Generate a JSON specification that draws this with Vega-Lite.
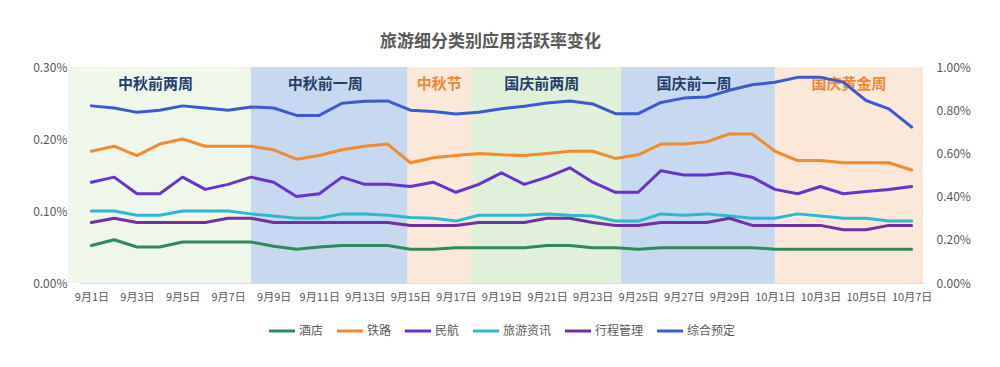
{
  "$schema": "https://vega.github.io/schema/vega-lite/v6.json",
  "width": 843,
  "height": 216,
  "autosize": {"type": "none"},
  "padding": {"left": 80, "top": 67, "right": 77, "bottom": 84},
  "background": "white",
  "config": {
    "view": {"stroke": null},
    "font": "Noto Sans CJK SC",
    "legend": {"layout": {"bottom": {"anchor": "middle"}}}
  },
  "title": {
    "text": "旅游细分类别应用活跃率变化",
    "fontSize": 17,
    "fontWeight": "bold",
    "color": "#595959",
    "anchor": "middle",
    "dx": -11,
    "offset": 10
  },
  "datasets": {
    "series": [
      {"day": 1, "酒店": 0.052, "铁路": 0.183, "民航": 0.140, "旅游资讯": 0.100, "行程管理": 0.084, "综合预定": 0.820},
      {"day": 2, "酒店": 0.060, "铁路": 0.190, "民航": 0.147, "旅游资讯": 0.100, "行程管理": 0.090, "综合预定": 0.810},
      {"day": 3, "酒店": 0.050, "铁路": 0.177, "民航": 0.124, "旅游资讯": 0.094, "行程管理": 0.084, "综合预定": 0.790},
      {"day": 4, "酒店": 0.050, "铁路": 0.193, "民航": 0.124, "旅游资讯": 0.094, "行程管理": 0.084, "综合预定": 0.800},
      {"day": 5, "酒店": 0.057, "铁路": 0.200, "民航": 0.147, "旅游资讯": 0.100, "行程管理": 0.084, "综合预定": 0.820},
      {"day": 6, "酒店": 0.057, "铁路": 0.190, "民航": 0.130, "旅游资讯": 0.100, "行程管理": 0.084, "综合预定": 0.810},
      {"day": 7, "酒店": 0.057, "铁路": 0.190, "民航": 0.137, "旅游资讯": 0.100, "行程管理": 0.090, "综合预定": 0.800},
      {"day": 8, "酒店": 0.057, "铁路": 0.190, "民航": 0.147, "旅游资讯": 0.096, "行程管理": 0.090, "综合预定": 0.815},
      {"day": 9, "酒店": 0.051, "铁路": 0.185, "民航": 0.140, "旅游资讯": 0.093, "行程管理": 0.084, "综合预定": 0.810},
      {"day": 10, "酒店": 0.047, "铁路": 0.172, "民航": 0.120, "旅游资讯": 0.090, "行程管理": 0.084, "综合预定": 0.776},
      {"day": 11, "酒店": 0.050, "铁路": 0.177, "民航": 0.124, "旅游资讯": 0.090, "行程管理": 0.084, "综合预定": 0.776},
      {"day": 12, "酒店": 0.052, "铁路": 0.185, "民航": 0.147, "旅游资讯": 0.096, "行程管理": 0.084, "综合预定": 0.832},
      {"day": 13, "酒店": 0.052, "铁路": 0.190, "民航": 0.137, "旅游资讯": 0.096, "行程管理": 0.084, "综合预定": 0.841},
      {"day": 14, "酒店": 0.052, "铁路": 0.193, "民航": 0.137, "旅游资讯": 0.094, "行程管理": 0.084, "综合预定": 0.843},
      {"day": 15, "酒店": 0.047, "铁路": 0.167, "民航": 0.134, "旅游资讯": 0.091, "行程管理": 0.080, "综合预定": 0.800},
      {"day": 16, "酒店": 0.047, "铁路": 0.174, "民航": 0.140, "旅游资讯": 0.090, "行程管理": 0.080, "综合预定": 0.794},
      {"day": 17, "酒店": 0.049, "铁路": 0.177, "民航": 0.126, "旅游资讯": 0.086, "行程管理": 0.080, "综合预定": 0.782},
      {"day": 18, "酒店": 0.049, "铁路": 0.180, "民航": 0.137, "旅游资讯": 0.094, "行程管理": 0.084, "综合预定": 0.791},
      {"day": 19, "酒店": 0.049, "铁路": 0.178, "民航": 0.153, "旅游资讯": 0.094, "行程管理": 0.084, "综合预定": 0.807},
      {"day": 20, "酒店": 0.049, "铁路": 0.177, "民航": 0.137, "旅游资讯": 0.094, "行程管理": 0.084, "综合预定": 0.818},
      {"day": 21, "酒店": 0.052, "铁路": 0.180, "民航": 0.147, "旅游资讯": 0.096, "行程管理": 0.090, "综合预定": 0.833},
      {"day": 22, "酒店": 0.052, "铁路": 0.183, "民航": 0.160, "旅游资讯": 0.094, "行程管理": 0.090, "综合预定": 0.843},
      {"day": 23, "酒店": 0.049, "铁路": 0.183, "民航": 0.140, "旅游资讯": 0.093, "行程管理": 0.084, "综合预定": 0.829},
      {"day": 24, "酒店": 0.049, "铁路": 0.173, "民航": 0.126, "旅游资讯": 0.086, "行程管理": 0.080, "综合预定": 0.784},
      {"day": 25, "酒店": 0.047, "铁路": 0.178, "民航": 0.126, "旅游资讯": 0.086, "行程管理": 0.080, "综合预定": 0.784},
      {"day": 26, "酒店": 0.049, "铁路": 0.193, "民航": 0.156, "旅游资讯": 0.096, "行程管理": 0.084, "综合预定": 0.836},
      {"day": 27, "酒店": 0.049, "铁路": 0.193, "民航": 0.150, "旅游资讯": 0.094, "行程管理": 0.084, "综合预定": 0.856},
      {"day": 28, "酒店": 0.049, "铁路": 0.196, "民航": 0.150, "旅游资讯": 0.096, "行程管理": 0.084, "综合预定": 0.861},
      {"day": 29, "酒店": 0.049, "铁路": 0.207, "民航": 0.153, "旅游资讯": 0.093, "行程管理": 0.090, "综合预定": 0.892},
      {"day": 30, "酒店": 0.049, "铁路": 0.207, "民航": 0.147, "旅游资讯": 0.090, "行程管理": 0.080, "综合预定": 0.918},
      {"day": 31, "酒店": 0.047, "铁路": 0.183, "民航": 0.130, "旅游资讯": 0.090, "行程管理": 0.080, "综合预定": 0.929},
      {"day": 32, "酒店": 0.047, "铁路": 0.170, "民航": 0.124, "旅游资讯": 0.096, "行程管理": 0.080, "综合预定": 0.952},
      {"day": 33, "酒店": 0.047, "铁路": 0.170, "民航": 0.134, "旅游资讯": 0.093, "行程管理": 0.080, "综合预定": 0.952},
      {"day": 34, "酒店": 0.047, "铁路": 0.167, "民航": 0.124, "旅游资讯": 0.090, "行程管理": 0.074, "综合预定": 0.930},
      {"day": 35, "酒店": 0.047, "铁路": 0.167, "民航": 0.127, "旅游资讯": 0.090, "行程管理": 0.074, "综合预定": 0.845},
      {"day": 36, "酒店": 0.047, "铁路": 0.167, "民航": 0.130, "旅游资讯": 0.086, "行程管理": 0.080, "综合预定": 0.806},
      {"day": 37, "酒店": 0.047, "铁路": 0.157, "民航": 0.134, "旅游资讯": 0.086, "行程管理": 0.080, "综合预定": 0.722}
    ],
    "bands": [
      {"band": "中秋前两周", "start": -0.03, "end": 8.0, "kind": "pre"},
      {"band": "中秋前一周", "start": 8.0, "end": 14.88, "kind": "pre"},
      {"band": "中秋节", "start": 14.88, "end": 17.65, "kind": "holiday"},
      {"band": "国庆前两周", "start": 17.65, "end": 24.24, "kind": "pre"},
      {"band": "国庆前一周", "start": 24.24, "end": 31.0, "kind": "pre"},
      {"band": "国庆黄金周", "start": 31.0, "end": 37.5, "kind": "holiday"}
    ]
  },
  "layer": [
    {
      "layer": [
        {
          "data": {"name": "bands"},
          "mark": {"type": "rect"},
          "encoding": {
            "x": {
              "field": "start",
              "type": "quantitative",
              "title": null,
              "scale": {"domain": [0.5, 37.5], "nice": false, "zero": false},
              "axis": {
                "values": [1, 3, 5, 7, 9, 11, 13, 15, 17, 19, 21, 23, 25, 27, 29, 31, 33, 35, 37],
                "labelExpr": "datum.value <= 30 ? '9月' + datum.value + '日' : '10月' + (datum.value - 30) + '日'",
                "grid": false,
                "ticks": false,
                "domain": true,
                "domainColor": "#d9d9d9",
                "labelFontSize": 11,
                "labelColor": "#595959",
                "labelPadding": 8,
                "labelFlush": false
              }
            },
            "x2": {"field": "end"},
            "fill": {
              "field": "band",
              "type": "nominal",
              "scale": {
                "domain": ["中秋前两周", "中秋前一周", "中秋节", "国庆前两周", "国庆前一周", "国庆黄金周"],
                "range": ["#eff7eb", "#c7d9f0", "#fce8d8", "#e1f1d9", "#c7d9f0", "#fce8d8"]
              },
              "legend": null
            }
          }
        },
        {
          "data": {"name": "bands"},
          "transform": [
            {"filter": "datum.kind == 'pre'"},
            {"calculate": "(datum.start + datum.end) / 2", "as": "mid"}
          ],
          "mark": {"type": "text", "fontSize": 15, "fontWeight": "bold", "color": "#1f3f6e", "baseline": "middle", "dx": -4},
          "encoding": {
            "x": {"field": "mid", "type": "quantitative", "title": null},
            "y": {"datum": 0.276, "type": "quantitative"},
            "text": {"field": "band"}
          }
        },
        {
          "data": {"name": "bands"},
          "transform": [
            {"filter": "datum.kind == 'holiday'"},
            {"calculate": "(datum.start + datum.end) / 2", "as": "mid"}
          ],
          "mark": {"type": "text", "fontSize": 15, "fontWeight": "bold", "color": "#f0883a", "baseline": "middle"},
          "encoding": {
            "x": {"field": "mid", "type": "quantitative", "title": null},
            "y": {"datum": 0.277, "type": "quantitative"},
            "text": {"field": "band"}
          }
        },
        {
          "data": {"name": "series"},
          "transform": [
            {"fold": ["酒店", "铁路", "民航", "旅游资讯", "行程管理"], "as": ["series", "value"]}
          ],
          "mark": {"type": "line", "strokeWidth": 3, "strokeJoin": "round", "strokeCap": "round"},
          "encoding": {
            "x": {"field": "day", "type": "quantitative", "title": null},
            "y": {
              "field": "value",
              "type": "quantitative",
              "title": null,
              "scale": {"domain": [0, 0.3], "nice": false},
              "axis": {
                "values": [0, 0.05, 0.1, 0.15, 0.2, 0.25, 0.3],
                "labelExpr": "format(datum.value, '.2f') + '%'",
                "grid": true,
                "gridColor": "#d9d9d9",
                "ticks": false,
                "domain": false,
                "labelFontSize": 12,
                "labelColor": "#595959",
                "labelPadding": 13
              }
            },
            "color": {
              "field": "series",
              "type": "nominal",
              "scale": {
                "domain": ["酒店", "铁路", "民航", "旅游资讯", "行程管理", "综合预定"],
                "range": ["#2e8a5c", "#f28a2e", "#6633cc", "#2bb8d2", "#7030a0", "#3a5bd0"]
              },
              "legend": {
                "orient": "bottom",
                "direction": "horizontal",
                "title": null,
                "symbolType": "stroke",
                "symbolStrokeWidth": 3,
                "symbolSize": 680,
                "labelFontSize": 12,
                "labelColor": "#595959",
                "labelOffset": 2,
                "columnPadding": 6,
                "offset": 14
              }
            }
          }
        }
      ]
    },
    {
      "data": {"name": "series"},
      "mark": {"type": "line", "strokeWidth": 3, "strokeJoin": "round", "strokeCap": "round"},
      "encoding": {
        "x": {"field": "day", "type": "quantitative", "title": null},
        "y": {
          "field": "综合预定",
          "type": "quantitative",
          "title": null,
          "scale": {"domain": [0, 1], "nice": false},
          "axis": {
            "orient": "right",
            "values": [0, 0.2, 0.4, 0.6, 0.8, 1.0],
            "labelExpr": "format(datum.value, '.2f') + '%'",
            "grid": false,
            "ticks": false,
            "domain": false,
            "labelFontSize": 12,
            "labelColor": "#595959",
            "labelPadding": 13
          }
        },
        "color": {"datum": "综合预定"}
      }
    }
  ],
  "resolve": {"scale": {"y": "independent"}}
}
